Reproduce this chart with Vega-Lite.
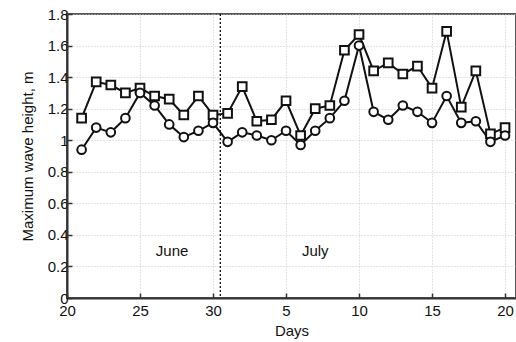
{
  "$schema": "https://vega.github.io/schema/vega-lite/v6.json",
  "autosize": {"type": "none"},
  "padding": {"left": 67, "top": 14, "right": 0, "bottom": 44},
  "width": 449,
  "height": 284,
  "config": {
    "font": "Liberation Sans",
    "view": {"stroke": "#555", "strokeWidth": 2},
    "axis": {
      "labelFont": "Liberation Sans",
      "labelFontSize": 15,
      "labelColor": "#111",
      "labelFlush": false,
      "titleFont": "Liberation Sans",
      "titleFontSize": 15,
      "titleFontWeight": "normal",
      "titleColor": "#111",
      "domainColor": "#333",
      "domainWidth": 2,
      "tickColor": "#333",
      "tickSize": -5,
      "tickWidth": 1.5,
      "gridColor": "#c8c8c8",
      "gridDash": [1, 2],
      "gridWidth": 1
    }
  },
  "datasets": {
    "waves": [
      {"day": 21, "series": "squares", "h": 1.14}, {"day": 22, "series": "squares", "h": 1.37}, {"day": 23, "series": "squares", "h": 1.35}, {"day": 24, "series": "squares", "h": 1.30}, {"day": 25, "series": "squares", "h": 1.33}, {"day": 26, "series": "squares", "h": 1.28}, {"day": 27, "series": "squares", "h": 1.26}, {"day": 28, "series": "squares", "h": 1.16}, {"day": 29, "series": "squares", "h": 1.28}, {"day": 30, "series": "squares", "h": 1.16},
      {"day": 31, "series": "squares", "h": 1.17}, {"day": 32, "series": "squares", "h": 1.34}, {"day": 33, "series": "squares", "h": 1.12}, {"day": 34, "series": "squares", "h": 1.13}, {"day": 35, "series": "squares", "h": 1.25}, {"day": 36, "series": "squares", "h": 1.03}, {"day": 37, "series": "squares", "h": 1.20}, {"day": 38, "series": "squares", "h": 1.22}, {"day": 39, "series": "squares", "h": 1.57}, {"day": 40, "series": "squares", "h": 1.67},
      {"day": 41, "series": "squares", "h": 1.44}, {"day": 42, "series": "squares", "h": 1.49}, {"day": 43, "series": "squares", "h": 1.42}, {"day": 44, "series": "squares", "h": 1.47}, {"day": 45, "series": "squares", "h": 1.33}, {"day": 46, "series": "squares", "h": 1.69}, {"day": 47, "series": "squares", "h": 1.21}, {"day": 48, "series": "squares", "h": 1.44}, {"day": 49, "series": "squares", "h": 1.04}, {"day": 50, "series": "squares", "h": 1.08},
      {"day": 21, "series": "circles", "h": 0.94}, {"day": 22, "series": "circles", "h": 1.08}, {"day": 23, "series": "circles", "h": 1.05}, {"day": 24, "series": "circles", "h": 1.14}, {"day": 25, "series": "circles", "h": 1.30}, {"day": 26, "series": "circles", "h": 1.22}, {"day": 27, "series": "circles", "h": 1.10}, {"day": 28, "series": "circles", "h": 1.02}, {"day": 29, "series": "circles", "h": 1.06}, {"day": 30, "series": "circles", "h": 1.11},
      {"day": 31, "series": "circles", "h": 0.99}, {"day": 32, "series": "circles", "h": 1.05}, {"day": 33, "series": "circles", "h": 1.03}, {"day": 34, "series": "circles", "h": 1.00}, {"day": 35, "series": "circles", "h": 1.06}, {"day": 36, "series": "circles", "h": 0.97}, {"day": 37, "series": "circles", "h": 1.06}, {"day": 38, "series": "circles", "h": 1.14}, {"day": 39, "series": "circles", "h": 1.25}, {"day": 40, "series": "circles", "h": 1.60},
      {"day": 41, "series": "circles", "h": 1.18}, {"day": 42, "series": "circles", "h": 1.13}, {"day": 43, "series": "circles", "h": 1.22}, {"day": 44, "series": "circles", "h": 1.18}, {"day": 45, "series": "circles", "h": 1.11}, {"day": 46, "series": "circles", "h": 1.28}, {"day": 47, "series": "circles", "h": 1.11}, {"day": 48, "series": "circles", "h": 1.12}, {"day": 49, "series": "circles", "h": 0.99}, {"day": 50, "series": "circles", "h": 1.03}
    ],
    "divider": [{"day": 30.5}],
    "months": [{"label": "June", "day": 27.2, "h": 0.3}, {"label": "July", "day": 37.0, "h": 0.3}]
  },
  "layer": [
    {
      "data": {"name": "divider"},
      "mark": {"type": "rule", "color": "#111", "strokeWidth": 1.3, "strokeDash": [2, 2]},
      "encoding": {
        "x": {
          "field": "day", "type": "quantitative",
          "scale": {"domain": [20, 50.75], "nice": false, "zero": false},
          "axis": {
            "title": "Days",
            "values": [20, 25, 30, 35, 40, 45, 50],
            "labelExpr": "datum.value > 30 ? datum.value - 30 : datum.value",
            "labelOverlap": false,
            "labelPadding": 10,
            "titlePadding": 5,
            "grid": true
          }
        }
      }
    },
    {
      "data": {"name": "months"},
      "mark": {"type": "text", "fontSize": 15, "font": "Liberation Sans", "color": "#111"},
      "encoding": {
        "x": {"field": "day", "type": "quantitative"},
        "y": {
          "field": "h", "type": "quantitative",
          "scale": {"domain": [0, 1.8], "nice": false},
          "axis": {
            "title": "Maximum wave height, m",
            "tickCount": 10,
            "format": ".1~f",
            "labelOverlap": false,
            "labelBound": false,
            "labelFontSize": 15,
            "labelPadding": 4,
            "titlePadding": 12,
            "grid": true
          }
        },
        "text": {"field": "label"}
      }
    },
    {
      "data": {"name": "waves"},
      "mark": {"type": "line", "color": "#111", "strokeWidth": 2},
      "encoding": {
        "x": {"field": "day", "type": "quantitative"},
        "y": {"field": "h", "type": "quantitative", "axis": {"labelOverlap": false}},
        "detail": {"field": "series"}
      }
    },
    {
      "data": {"name": "waves"},
      "mark": {"type": "point", "filled": false, "fill": "white", "fillOpacity": 1, "stroke": "#111", "strokeWidth": 2, "opacity": 1},
      "encoding": {
        "x": {"field": "day", "type": "quantitative"},
        "y": {"field": "h", "type": "quantitative", "axis": {"labelOverlap": false}},
        "shape": {
          "field": "series", "type": "nominal",
          "scale": {"domain": ["squares", "circles"], "range": ["square", "circle"]},
          "legend": null
        },
        "size": {"value": 75}
      }
    }
  ]
}
